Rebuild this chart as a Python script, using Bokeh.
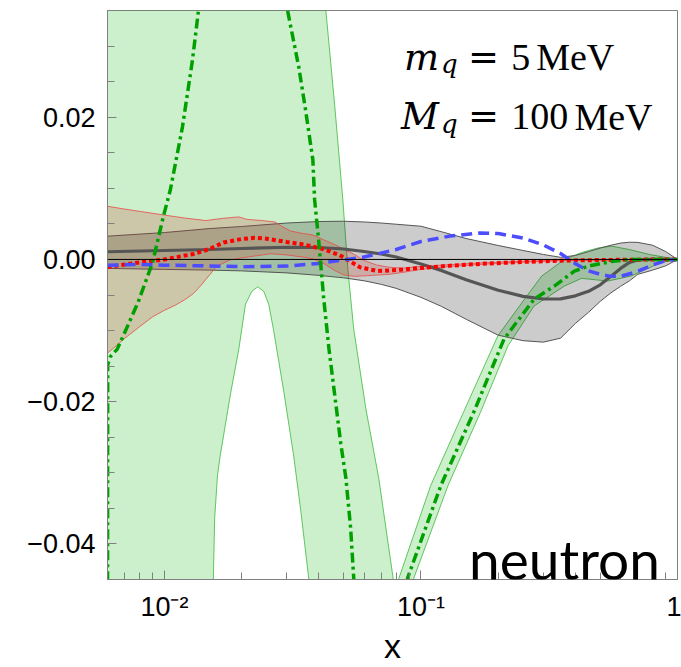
from bokeh.plotting import figure
from bokeh.models import FixedTicker, Label, Span
from bokeh.embed import file_html
from bokeh.resources import INLINE

# ---------------- data ----------------
# grey band + central dark-grey line
gray_x = [0.006, 0.01, 0.015, 0.02, 0.03, 0.04, 0.05, 0.06, 0.07, 0.08, 0.1, 0.12, 0.15, 0.2,
          0.25, 0.3, 0.35, 0.4, 0.45, 0.5, 0.55, 0.6, 0.65, 0.7, 0.8, 0.9, 1.0]
gray_mid = [0.00108, 0.00126, 0.0014, 0.00154, 0.00171, 0.00168, 0.00147, 0.00112, 0.00077, 0.00035,
            -0.00063, -0.00154, -0.00287, -0.00434, -0.00519, -0.00556, -0.00554, -0.00512, -0.00448,
            -0.00357, -0.00238, -0.00126, -0.00042, -0.00007, 0.0, 0.0, 0.0]
gray_up = [0.00327, 0.00378, 0.00434, 0.00463, 0.00512, 0.00533, 0.00537, 0.00527, 0.00512, 0.00495,
           0.00467, 0.0039, 0.00294, 0.00196, 0.00126, 0.0007, 0.0003, 0.00056, 0.0011, 0.0016,
           0.002, 0.0023, 0.00242, 0.0024, 0.002, 0.0011, 0.0]
gray_lo = [-0.00126, -0.0014, -0.0015, -0.00161, -0.00189, -0.00224, -0.00259, -0.003, -0.0035, -0.00406,
           -0.00533, -0.00659, -0.00841, -0.01065, -0.01142, -0.01163, -0.01107, -0.009, -0.00743,
           -0.00589, -0.0047, -0.00378, -0.003, -0.0021, -0.0015, -0.0009, 0.0]

# red band + red dotted line
red_x = [0.006, 0.008, 0.01, 0.011, 0.013, 0.015, 0.017, 0.02, 0.0225, 0.025, 0.03, 0.035, 0.042,
         0.048, 0.053, 0.058, 0.068, 0.083, 0.1, 0.13, 0.17, 0.25, 0.35, 0.5, 0.7, 1.0]
red_y = [-0.00105, -0.00042, 0.0, 0.00028, 0.00077, 0.00147, 0.00238, 0.00287, 0.00304, 0.00292,
         0.00245, 0.0021, 0.0014, 0.00063, -0.00028, -0.00112, -0.00164, -0.00144, -0.00119,
         -0.00088, -0.00063, -0.00035, -0.00017, -0.00008, -0.00003, 0.0]
red_up_x = [0.006, 0.007, 0.008, 0.01, 0.012, 0.0145, 0.017, 0.0195, 0.021, 0.024, 0.027, 0.029,
            0.031, 0.034, 0.038, 0.042, 0.046, 0.05, 0.055, 0.06, 0.067, 0.075, 0.085, 0.1, 0.13,
            0.17, 0.25, 0.35, 0.5, 0.7, 1.0]
red_up_y = [0.00747, 0.00708, 0.00676, 0.00624, 0.00582, 0.00547, 0.00579, 0.00598, 0.00563, 0.00547,
            0.00526, 0.00456, 0.004, 0.00371, 0.00343, 0.00273, 0.0021, 0.00147, 0.0007, -0.00014,
            -0.00077, -0.00109, -0.00123, -0.00098, -0.00073, -0.00049, -0.00025, -0.00011,
            -0.00006, -0.00003, 0.0]
red_lo_x = [0.006, 0.0065, 0.007, 0.008, 0.009, 0.01, 0.011, 0.012, 0.013, 0.014, 0.015, 0.016,
            0.018, 0.02, 0.023, 0.026, 0.03, 0.035, 0.038, 0.042, 0.046, 0.05, 0.055, 0.065, 0.075,
            0.085, 0.1, 0.13, 0.17, 0.25, 0.35, 0.5, 0.7, 1.0]
red_lo_y = [-0.01317, -0.01212, -0.0111, -0.00946, -0.00806, -0.00715, -0.00645, -0.00568, -0.00477,
            -0.0035, -0.00217, -0.00098, -0.00007, 0.00021, 0.00053, 0.0008, 0.00063, 0.00031,
            0.00007, -0.00063, -0.00154, -0.00217, -0.00238, -0.00224, -0.0021, -0.00182, -0.0014,
            -0.00098, -0.0007, -0.00039, -0.00018, -0.00011, -0.00006, 0.0]

# blue dashed line
blue_x = [0.006, 0.008, 0.01, 0.015, 0.02, 0.03, 0.04, 0.05, 0.06, 0.08, 0.1, 0.13, 0.17, 0.2,
          0.25, 0.3, 0.35, 0.4, 0.45, 0.5, 0.55, 0.6, 0.7, 0.8, 0.9, 1.0]
blue_y = [-0.0008, -0.0007, -0.00081, -0.00091, -0.00102, -0.00094, -0.00056, -0.00007, 0.00035,
          0.0014, 0.00252, 0.00329, 0.00371, 0.00364, 0.00301, 0.00203, 0.00084, -0.0006, -0.00161,
          -0.0021, -0.00238, -0.00238, -0.00168, -0.00077, -0.00014, 0.0]

# green band + green dash-dot line
green_up_x = [0.006, 0.03, 0.035, 0.039, 0.0426, 0.0461, 0.0496, 0.0519, 0.0547, 0.061, 0.0685,
              0.0779, 0.08, 0.0821, 0.1091, 0.1468, 0.1993, 0.2531, 0.2954, 0.3625, 0.4226,
              0.4928, 0.5546, 0.6472, 0.7768, 1.0]
green_up_y = [0.08, 0.08, 0.08, 0.05, 0.035, 0.0217, 0.0084, -0.0014, -0.0098, -0.021, -0.0308,
              -0.0448, -0.05, -0.0448, -0.0318, -0.0214, -0.01075, -0.0056, -0.00234, 0.0, 0.00098,
              0.00164, 0.00186, 0.0014, 0.0007, 0.0]
green_lo_x = [0.006, 0.015, 0.0152, 0.0157, 0.0161, 0.0165, 0.0181, 0.0195, 0.0207, 0.0219, 0.0231,
              0.0244, 0.0255, 0.0266, 0.0292, 0.0319, 0.034, 0.0365, 0.038, 0.05, 0.085, 0.0905,
              0.0938, 0.1275, 0.171, 0.2184, 0.2759, 0.3625, 0.4226, 0.5341, 0.6578, 0.8635, 1.0]
green_lo_y = [-0.08, -0.08, -0.06, -0.0364, -0.0304, -0.0276, -0.0189, -0.0126, -0.0063, -0.0045,
              -0.00385, -0.0045, -0.0063, -0.0098, -0.0186, -0.0276, -0.0353, -0.0448, -0.06, -0.08,
              -0.08, -0.06, -0.0448, -0.0318, -0.0214, -0.01215, -0.00655, -0.00374, -0.00266,
              -0.00304, -0.00234, -0.00042, 0.0]
green_x = [0.006, 0.00601, 0.00615, 0.00655, 0.0069, 0.0079, 0.009, 0.0099, 0.01055, 0.01176,
           0.01286, 0.01358, 0.0145, 0.02, 0.027, 0.0302, 0.0334, 0.0355, 0.0379, 0.0385, 0.04,
           0.0418, 0.0438, 0.0487, 0.051, 0.0532, 0.0547, 0.06, 0.07, 0.08, 0.0887, 0.1195, 0.1609,
           0.2107, 0.2759, 0.331, 0.3965, 0.45, 0.55, 0.66, 1.0]
green_y = [-0.06, -0.0148, -0.0137, -0.0126, -0.0108, -0.006, -0.0004, 0.006, 0.0098, 0.01864,
           0.028, 0.035, 0.045, 0.07, 0.05, 0.035, 0.02705, 0.021, 0.014, 0.0084, 0.00238, -0.0056,
           -0.0126, -0.0259, -0.0308, -0.0378, -0.0448, -0.065, -0.08, -0.065, -0.0448, -0.0318,
           -0.0214, -0.0112, -0.0056, -0.00374, -0.00164, -0.00094, -0.0003, 0.0, 0.0]

# axes
x_major = [0.01, 0.1, 1.0]
x_minor = [0.006, 0.007, 0.008, 0.009, 0.02, 0.03, 0.04, 0.05, 0.06, 0.07, 0.08, 0.09,
           0.2, 0.3, 0.4, 0.5, 0.6, 0.7, 0.8, 0.9]
x_labels = ["10⁻²", "10⁻¹", "1"]
y_major = [-0.04, -0.02, 0.0, 0.02]
y_minor = [-0.045, -0.035, -0.03, -0.025, -0.015, -0.01, -0.005, 0.005, 0.01, 0.015, 0.025, 0.03, 0.035]
y_labels = ["−0.04", "−0.02", "0.00", "0.02"]

# ---------------- figure ----------------
p = figure(width=681, height=667, x_axis_type="log", x_range=(0.006, 1.0), y_range=(-0.045, 0.035),
           output_backend="svg", toolbar_location=None,
           min_border_left=107, min_border_right=4, min_border_top=10, min_border_bottom=86)
p.grid.visible = False
p.outline_line_color = "#808080"
p.outline_line_width = 1
p.background_fill_color = "white"
p.border_fill_color = "white"

for ax in (p.xaxis[0], p.yaxis[0]):
    ax.axis_line_color = "#808080"
    ax.major_tick_line_color = "#808080"
    ax.minor_tick_line_color = "#808080"
    ax.major_tick_in = 9
    ax.major_tick_out = 0
    ax.minor_tick_in = 7
    ax.minor_tick_out = 0
    ax.major_label_text_font = "Liberation Sans"
    ax.major_label_text_font_size = "27px"
    ax.major_label_text_color = "black"

p.xaxis.ticker = FixedTicker(ticks=x_major, minor_ticks=x_minor)
p.xaxis.major_label_overrides = dict(zip(x_major, x_labels))
p.xaxis.major_label_standoff = 12
p.xaxis.axis_label = "x"
p.xaxis.axis_label_text_font = "Liberation Sans"
p.xaxis.axis_label_text_font_style = "normal"
p.xaxis.axis_label_text_font_size = "34px"
p.xaxis.axis_label_text_color = "black"
p.xaxis.axis_label_standoff = 2

p.yaxis.ticker = FixedTicker(ticks=y_major, minor_ticks=y_minor)
p.yaxis.major_label_overrides = dict(zip(y_major, y_labels))
p.yaxis.major_label_standoff = 12

# bands
p.patch(green_up_x + green_lo_x[::-1], green_up_y + green_lo_y[::-1],
        fill_color="#00b000", fill_alpha=0.2, line_color="#3cb93c", line_width=0.8)
p.patch(gray_x + gray_x[::-1], gray_up + gray_lo[::-1],
        fill_color="black", fill_alpha=0.2, line_color="#555555", line_width=1)
p.patch(red_up_x + red_lo_x[::-1], red_up_y + red_lo_y[::-1],
        fill_color="#c83c28", fill_alpha=0.22, line_color="#e84a4a", line_width=0.8)

# zero line
p.add_layout(Span(location=0, dimension="width", line_color="black", line_width=1))

# lines
p.line(gray_x, gray_mid, line_color="#555555", line_width=3.2)
p.line(red_x, red_y, line_color="#ff0000", line_width=4, line_dash="4 3")
p.line(blue_x, blue_y, line_color="#4d4dff", line_width=3.5, line_dash="11 6")
p.line(green_x, green_y, line_color="#00a000", line_width=3.5, line_dash="10 4 3 4")

# texts
roman = "Liberation Serif"
wide = "DejaVu Serif"
def lab(x, y, t, size="38px", style="normal", font=roman):
    p.add_layout(Label(x=x, y=y, text=t, text_font=font, text_font_style=style,
                       text_font_size=size, text_color="black", text_baseline="alphabetic"))

lab(0.0858, 0.02845, "m", size="37px", style="italic", font=wide)
lab(0.1197, 0.02747, "q", size="26px", style="italic", font=wide)
lab(0.1525, 0.02845, "=", size="37px", font=wide)
lab(0.2247, 0.02845, "5")
lab(0.2812, 0.02845, "MeV")

lab(0.0836, 0.02004, "M", size="37px", style="italic", font=wide)
lab(0.1197, 0.01906, "q", size="26px", style="italic", font=wide)
lab(0.1525, 0.02004, "=", size="37px", font=wide)
lab(0.2247, 0.02004, "100")
lab(0.3963, 0.02004, "MeV")

lab(0.154, -0.04205, "neutron", size="55px", font="Lato")

open("out.html", "w").write(file_html(p, INLINE))
